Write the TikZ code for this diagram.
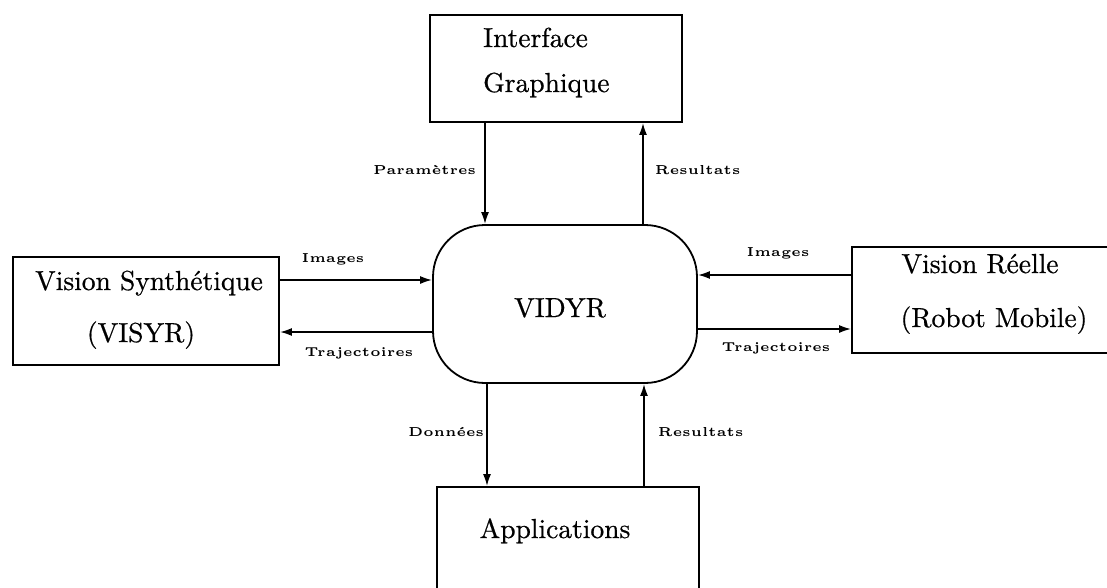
\documentclass[tikz,border=0pt]{standalone}
\usepackage{fontspec}
\setmainfont{lmroman10-regular.otf}[FakeBold=0.6]
\newfontfamily\lblfont[LetterSpace=4]{lmroman5-bold.otf}
\usetikzlibrary{arrows.meta}
\begin{document}
\begin{tikzpicture}[x=1pt,y=-1pt,
  box/.style={draw,line width=1.8pt,inner sep=0pt},
  big/.style={font=\fontsize{27.5}{30}\selectfont,inner sep=0pt,anchor=base},
  lbl/.style={font=\lblfont\fontsize{13}{15}\selectfont,inner sep=0pt},
  conn/.style={line width=1.8pt,-{Latex[length=12pt,width=8pt]}}]
\useasboundingbox (0,0) rectangle (1107,587);
\clip (0,0) rectangle (1107,587);
% boxes
\node[box,minimum width=252pt,minimum height=107pt] (top) at (556,68.5) {};
\node[box,minimum width=266pt,minimum height=108pt] (left) at (146,311) {};
\node[box,minimum width=278pt,minimum height=106pt] (right) at (991,300) {};
\node[box,minimum width=262pt,minimum height=133pt] (bot) at (568,553.5) {};
\node[box,rounded corners=52pt,minimum width=264pt,minimum height=158pt] (vidyr) at (565,304) {};
% texts
\node[big,anchor=base west] (t1) at (483,47) {Interface};
\node[big,anchor=base west] (t2) at (483,92) {Graphique};
\node[big] (t3) at (149,290) {Vision Synthétique};
\node[big] (t4) at (141,342) {(VISYR)};
\node[big] (t5) at (980,273) {Vision Réelle};
\node[big] (t6) at (994,327) {(Robot Mobile)};
\node[big] (t7) at (555,538) {Applications};
\node[big] (t8) at (560,317) {VIDYR};
% connectors
\draw[conn] (top.south -| 485,0) -- (vidyr.north -| 485,0);
\draw[conn] (vidyr.north -| 643,0) -- (top.south -| 643,0);
\draw[conn] (left.east |- 0,280) -- (vidyr.west |- 0,280);
\draw[conn] (vidyr.west |- 0,332) -- (left.east |- 0,332);
\draw[conn] (right.west |- 0,275) -- (vidyr.east |- 0,275);
\draw[conn] (vidyr.east |- 0,329) -- (right.west |- 0,329);
\draw[conn] (vidyr.south -| 487,0) -- (bot.north -| 487,0);
\draw[conn] (bot.north -| 644,0) -- (vidyr.south -| 644,0);
% labels
\node[lbl,anchor=east] (l1) at (476,170) {Paramètres};
\node[lbl,anchor=west] (l2) at (655,170) {Resultats};
\node[lbl] (l3) at (333,259) {Images};
\node[lbl] (l4) at (359,353) {Trajectoires};
\node[lbl] (l5) at (778,253) {Images};
\node[lbl] (l6) at (776,348) {Trajectoires};
\node[lbl] (l7) at (446,432) {Données};
\node[lbl,anchor=west] (l8) at (658,432) {Resultats};
\end{tikzpicture}
\end{document}
